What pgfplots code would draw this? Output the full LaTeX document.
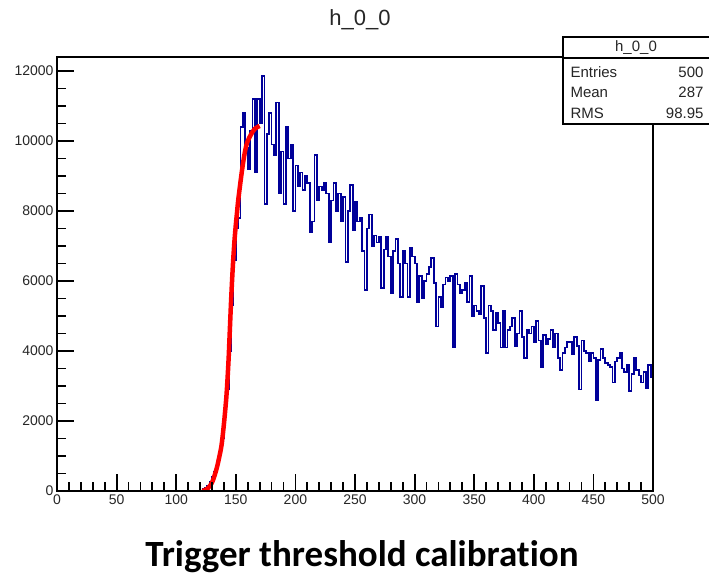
\documentclass[border=0pt]{standalone}
\usepackage{fontspec}
\setmainfont{Liberation Sans}
\newfontfamily\captionfont[Ligatures={NoCommon}]{Carlito}
\usepackage{pgfplots}
\usepackage{pgfplotstable}
\pgfplotsset{compat=1.18}
\definecolor{rootblue}{RGB}{0,0,153}
\pgfplotstableread{
x y
0 0
120 0
122 50
124 100
126 150
128 250
130 400
132 550
134 800
136 1100
138 1500
140 2100
142 2900
144 4000
146 5300
148 6600
150 7500
152 7800
154 10400
156 10800
158 9800
160 9200
162 10300
164 11200
166 9100
168 11200
170 10500
172 11850
174 8200
176 10200
178 10800
180 9900
182 9600
184 11100
186 8500
188 9700
190 8200
192 10400
194 9500
196 9900
198 8000
200 9300
202 8700
204 9100
206 8600
208 9000
210 8800
212 7400
214 7700
216 9600
218 8300
220 8700
222 8600
224 8800
226 8500
228 7100
230 8300
232 8800
234 8000
236 8500
238 7700
240 8400
242 6550
244 8000
246 8750
248 7450
250 8250
252 7700
254 7800
256 6850
258 5750
260 7500
262 7900
264 7000
266 7300
268 7100
270 7250
272 5800
274 6900
276 7250
278 6700
280 5650
282 6850
284 7200
286 6500
288 5550
290 6850
292 6500
294 5550
296 6950
298 6700
300 6500
302 5400
304 6150
306 5500
308 6000
310 6200
312 6400
314 6650
316 5950
318 4700
320 5550
322 5250
324 5900
326 6100
328 6000
330 6150
332 4100
334 6200
336 5900
338 5650
340 5750
342 5950
344 5400
346 6150
348 5000
350 5300
352 5150
354 5050
356 5850
358 4950
360 3950
362 5300
364 5150
366 4600
368 5100
370 4800
372 4100
374 5150
376 4100
378 4600
380 4700
382 4950
384 4150
386 4500
388 5150
390 4400
392 3800
394 4600
396 4500
398 4700
400 4250
402 4850
404 4300
406 3550
408 4450
410 4200
412 4350
414 4600
416 4100
418 4500
420 3800
422 3450
424 3950
426 4100
428 4250
430 4250
432 3900
434 4400
436 4150
438 2900
440 4300
442 4000
444 3950
446 3700
448 3950
450 3800
452 2600
454 3750
456 4050
458 3800
460 3650
462 3600
464 3550
466 3100
468 3700
470 3800
472 3950
474 3500
476 3400
478 3600
480 2850
482 3350
484 3800
486 3450
488 3300
490 3100
492 3400
494 2950
496 3600
498 3250
500 3250
}\histdata
\pgfplotstableread{
x y
122 0
126 60
129 180
131 320
134 650
136 950
138 1300
140 1900
142 2650
143 3170
144 3800
145 4600
146 5400
147 6100
148 6700
149 7200
150 7600
151 7950
152 8300
154 8850
156 9350
158 9750
160 10000
163 10200
166 10350
170 10430
}\fitdata
\begin{document}
\begin{tikzpicture}
\path[use as bounding box] (0pt,0pt) rectangle (709pt,576pt);
\begin{axis}[
  at={(57pt,85pt)}, anchor=south west,
  scale only axis, width=596pt, height=434pt,
  xmin=0, xmax=500, ymin=0, ymax=12400,
  axis line style={line width=2pt},
  xtick={0,50,...,500}, ytick={0,2000,...,12000},
  minor x tick num=4, minor y tick num=3,
  xtick pos=left, ytick pos=left, tick align=inside,
  major tick length=17pt, minor tick length=9pt,
  x tick style={line width=1.8pt, black},
  y tick style={line width=1.8pt, black},
  xticklabel style={font=\fontsize{14}{14}\selectfont, text=black!85},
  yticklabel style={font=\fontsize{14}{14}\selectfont, text=black!85},
  /pgf/number format/assume math mode=true,
  /pgf/number format/1000 sep={},
  scaled y ticks=false,
  axis on top,
]
\addplot[const plot mark left, rootblue, line width=1.8pt, line join=miter] table[x=x,y=y] {\histdata};
\addplot[smooth, red, line width=4.5pt] table[x=x,y=y] {\fitdata};
\pgfplotsinvokeforeach{2000,4000,6000,8000,10000,12000}{
  \draw[black, line width=1.8pt] (axis cs:0,#1) -- ++(17pt,0pt);
}
\pgfplotsinvokeforeach{500,1000,1500,2500,3000,3500,4500,5000,5500,6500,7000,7500,8500,9000,9500,10500,11000,11500}{
  \draw[black, line width=1.8pt] (axis cs:0,#1) -- ++(9pt,0pt);
}
\end{axis}
\node[font=\fontsize{22}{22}\selectfont, text=black!85] at (360pt,556pt) {h\_0\_0};
\draw[fill=white, line width=1.8pt] (563pt,452pt) rectangle (714pt,539pt);
\draw[line width=1.5pt] (563pt,518pt) -- (714pt,518pt);
\node[font=\fontsize{15}{15}\selectfont, text=black!85] at (636pt,528pt) {h\_0\_0};
\node[font=\fontsize{15}{15}\selectfont, text=black!85, anchor=west] at (567pt,504pt) {Entries};
\node[font=\fontsize{15}{15}\selectfont, text=black!85, anchor=west] at (567pt,484pt) {Mean};
\node[font=\fontsize{15}{15}\selectfont, text=black!85, anchor=west] at (567pt,463pt) {RMS};
\node[font=\fontsize{15}{15}\selectfont, text=black!85, anchor=east] at (707pt,504pt) {500};
\node[font=\fontsize{15}{15}\selectfont, text=black!85, anchor=east] at (707pt,484pt) {287};
\node[font=\fontsize{15}{15}\selectfont, text=black!85, anchor=east] at (707pt,463pt) {98.95};
\node[font=\captionfont\bfseries\fontsize{37}{37}\selectfont] at (362pt,19pt) {Trigger threshold calibration};
\end{tikzpicture}
\end{document}
